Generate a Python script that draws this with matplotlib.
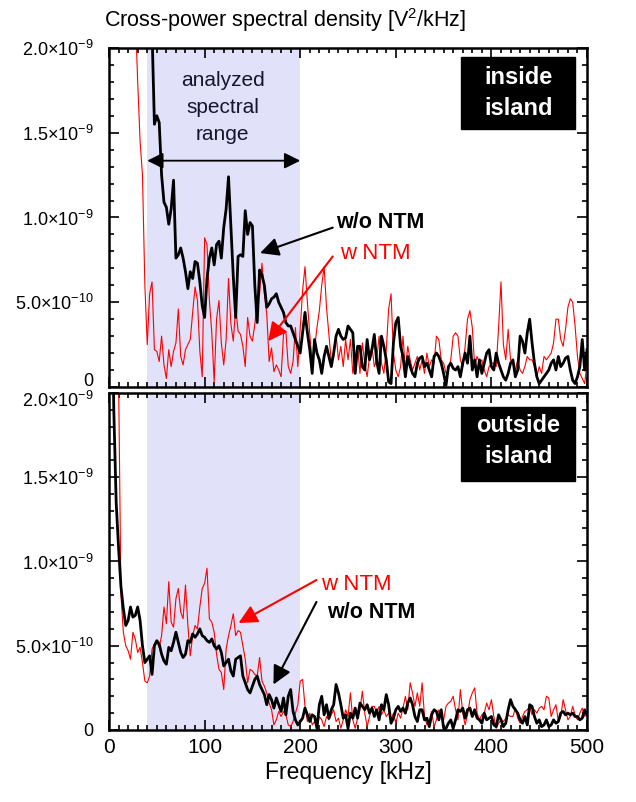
import numpy as np
import matplotlib
matplotlib.use('Agg')
import matplotlib.pyplot as plt
import matplotlib.transforms as mtransforms
from matplotlib.ticker import MultipleLocator, FixedLocator
from matplotlib.patches import Rectangle

plt.rcParams['font.family'] = ['Liberation Sans', 'DejaVu Sans']
plt.rcParams['mathtext.fontset'] = 'custom'
plt.rcParams['mathtext.rm'] = 'Liberation Sans'
plt.rcParams['mathtext.it'] = 'Liberation Sans:italic'
plt.rcParams['mathtext.bf'] = 'Liberation Sans:bold'

# frequency grid of the spectra [kHz], 2.5 kHz bins
freq = np.linspace(0, 500, 201)
scale = 1e-10   # spectra below are in units of 1e-10 V^2/kHz

# inside island, w/o NTM (black)
inside_wo = [80, 70, 60, 50, 45, 40, 38, 35, 32, 30,
             28, 26, 25, 24, 23, 22.5, 22, 21.5, 21, 15.5,
             16.0, 15.6, 12.5, 10.9, 10.6, 9.6, 10.5, 12.2, 7.6, 7.8,
             8.2, 7.6, 6.8, 5.8, 6.8, 6.4, 7.4, 7.3, 6.2, 4.8,
             4.1, 6.4, 7.6, 8.2, 7.2, 8.4, 8.6, 7.6, 9.4, 10.5,
             12.4, 9.5, 6.5, 4.1, 7.7, 7.8, 7.7, 10.4, 9.0, 9.7,
             9.5, 6.0, 3.8, 6.9, 6.6, 6.0, 4.7, 4.9, 5.2, 5.3,
             5.5, 5.0, 4.7, 4.4, 3.8, 3.6, 3.6, 3.2, 2.8, 2.4,
             2.0, 3.2, 4.4, 3.2, 2.2, 0.8, 2.8, 2.0, 1.6, 0.8,
             1.8, 2.4, 1.8, 1.2, 2.0, 3.0, 3.4, 3.0, 2.8, 2.9,
             3.6, 3.4, 3.2, 0.8, 2.4, 2.4, 1.2, 1.0, 2.8, 1.6,
             2.2, 3.1, 1.5, 0.8, 3.0, 2.4, 1.6, 0.3, 0.2, 2.6,
             3.8, 4.1, 2.4, 1.8, 0.6, 1.8, 1.2, 0.8, 0.6, 1.4,
             1.7, 1.8, 1.2, 1.4, 1.0, 0.6, 1.8, 2.0, 1.8, 1.4,
             0.8, 0.1, 1.2, 1.4, 1.1, 1.0, 1.2, 0.6, 1.4, 2.0,
             1.4, 3.0, 1.0, 1.6, 0.6, 1.6, 0.8, 1.4, 2.0, 2.2,
             1.2, 1.0, 2.0, 1.4, 1.0, 0.6, 0.4, 0.8, 1.4, 1.6,
             0.6, 1.0, 3.0, 2.7, 2.0, 3.2, 4.0, 2.6, 1.4, 0.6,
             0.2, 0.4, 0.6, 0.8, 1.0, 1.4, 1.6, 1.0, 1.8, 1.2,
             1.4, 1.7, 1.8, 1.0, 0.4, 0.2, 0.6, 1.2, 2.8, 1.0,
             2.2]

# inside island, w NTM (red)
inside_w = [80, 70, 60, 55, 50, 45, 40, 36, 32, 28,
            25, 22, 18, 14.5, 12.5, 6.0, 2.5, 5.5, 6.2, 2.2,
            2.1, 1.5, 3.0, 1.3, 0.5, 2.2, 1.2, 2.1, 2.6, 4.6,
            1.8, 1.3, 2.2, 2.5, 2.8, 4.4, 5.9, 5.1, 2.1, 0.6,
            8.8, 8.4, 5.1, 3.2, 0.3, 4.0, 5.1, 2.6, 1.3, 2.8,
            6.4, 3.7, 2.7, 4.7, 3.3, 3.1, 2.4, 1.2, 4.1, 3.0,
            2.7, 3.7, 5.0, 5.5, 7.3, 5.5, 4.3, 1.5, 2.3, 0.9,
            1.3, 1.0, 0.6, 3.1, 3.3, 1.2, 0.8, 1.5, 3.5, 1.2,
            3.5, 5.7, 7.1, 5.0, 3.1, 1.5, 2.3, 3.5, 4.5, 6.0,
            7.1, 4.7, 3.1, 1.5, 1.8, 3.1, 1.6, 2.4, 1.2, 2.8,
            1.6, 2.8, 0.8, 1.6, 2.4, 0.8, 2.6, 1.4, 0.6, 1.8,
            2.4, 1.2, 1.6, 3.0, 1.4, 0.8, 2.2, 4.6, 5.5, 2.0,
            1.0, 0.6, 1.2, 3.0, 1.0, 2.4, 1.6, 1.0, 1.4, 1.8,
            1.0, 1.6, 0.8, 2.0, 1.2, 1.6, 1.4, 3.0, 2.8, 1.6,
            1.4, 0.8, 1.0, 1.6, 3.0, 3.2, 3.0, 1.6, 1.2, 2.4,
            4.0, 4.5, 3.5, 1.2, 1.8, 1.4, 1.6, 1.0, 0.6, 1.2,
            1.4, 1.4, 1.2, 3.5, 6.2, 2.5, 1.6, 3.4, 1.6, 1.4,
            1.0, 1.6, 1.0, 0.8, 1.2, 1.8, 1.6, 1.6, 1.2, 0.6,
            1.2, 0.8, 1.8, 1.6, 1.8, 2.0, 2.6, 4.0, 4.0, 2.8,
            2.4, 3.4, 4.7, 5.2, 5.0, 3.6, 1.8, 0.8, 0.5, 0.2,
            1.4]

# outside island, w/o NTM (black)
outside_wo = [40, 30, 19, 13.5, 10.8, 8.5, 7.2, 6.2, 6.5, 7.3,
              6.7, 6.8, 7.3, 6.5, 5.0, 4.0, 4.2, 4.4, 3.3, 5.0,
              5.3, 5.1, 4.5, 4.1, 3.9, 4.9, 4.7, 5.2, 5.8, 5.2,
              4.6, 4.3, 4.5, 5.3, 5.2, 5.7, 5.5, 5.7, 6.0, 5.6,
              5.5, 5.3, 5.2, 5.4, 5.0, 4.8, 5.0, 4.6, 3.8, 4.0,
              4.2, 3.5, 3.2, 4.2, 4.3, 4.4, 3.2, 2.8, 2.4, 2.2,
              2.6, 3.0, 3.2, 2.7, 2.4, 2.1, 1.5, 2.1, 1.8, 1.3,
              1.9, 1.5, 1.1, 1.9, 0.9, 2.0, 2.4, 1.1, 0.6, 0.3,
              0.5, 0.7, 1.3, 0.9, 0.5, 0.9, 0.8, 0.1, 1.5, 2.0,
              0.9, 1.5, 0.7, 1.2, 1.5, 2.7, 2.2, 1.5, 0.7, 0.9,
              0.1, 1.0, 0.7, 1.3, 0.7, 1.6, 1.4, 1.2, 1.5, 1.0,
              1.3, 0.8, 1.2, 0.6, 1.5, 1.2, 2.1, 1.5, 0.4, 0.7,
              1.2, 1.4, 1.1, 1.3, 1.0, 1.6, 1.9, 1.5, 0.8, 0.5,
              1.2, 1.2, 0.6, 0.7, 0.2, 0.9, 1.2, 1.1, 0.6, 1.2,
              0.1, 0.1, 0.4, 0.6, 0.1, 0.6, 1.2, 1.1, 1.3, 0.7,
              1.2, 1.3, 0.8, 1.2, 0.7, 0.6, 0.4, 1.0, 0.6, 0.7,
              0.8, 0.3, 0.2, 0.9, 0.6, 0.2, 0.4, 1.2, 1.8, 1.4,
              1.2, 1.0, 0.6, 0.4, 0.8, 0.3, 1.5, 1.4, 0.8, 0.4,
              0.6, 0.2, 0.3, 0.6, 0.2, 0.3, 0.6, 0.4, 0.5, 1.0,
              1.1, 0.9, 1.0, 0.9, 1.0, 0.8, 0.8, 0.6, 0.7, 1.2,
              0.9]

# outside island, w NTM (red)
outside_w = [50, 45, 35, 26, 21, 8.0, 5.8, 5.0, 4.7, 4.2,
             5.8, 5.4, 4.6, 4.9, 4.0, 2.9, 2.8, 3.2, 4.8, 5.1,
             5.2, 4.9, 5.6, 7.3, 6.3, 8.8, 6.4, 6.1, 7.8, 8.4,
             7.0, 6.6, 8.6, 6.2, 4.4, 5.6, 6.2, 6.0, 7.3, 8.4,
             8.7, 9.6, 6.6, 6.4, 5.8, 4.5, 3.6, 3.4, 2.4, 4.8,
             5.6, 6.2, 6.9, 5.6, 5.9, 5.8, 5.0, 4.2, 2.8, 3.6,
             3.5, 3.3, 3.2, 4.3, 2.9, 2.6, 2.2, 1.6, 1.2, 0.3,
             0.6, 1.1, 0.8, 1.1, 0.9, 0.3, 0.2, 0.5, 1.0, 1.5,
             2.9, 3.0, 1.4, 0.5, 1.0, 0.3, 0.5, 0.1, 0.8, 0.6,
             0.2, 0.8, 0.6, 0.9, 1.2, 0.5, 0.7, 0.1, 0.6, 1.2,
             0.8, 2.2, 0.6, 0.1, 0.7, 1.2, 2.3, 1.0, 0.2, 0.8,
             1.4, 1.4, 1.0, 1.4, 0.9, 1.2, 0.8, 1.0, 0.6, 1.0,
             0.4, 1.0, 0.7, 1.3, 2.0, 1.2, 2.8, 2.2, 1.4, 2.2,
             1.4, 2.8, 0.8, 0.3, 0.6, 1.1, 0.2, 0.6, 1.2, 0.8,
             0.6, 1.4, 1.6, 1.7, 2.0, 1.2, 0.6, 2.4, 1.0, 0.3,
             0.9, 1.8, 2.2, 2.5, 1.0, 0.6, 0.9, 1.0, 1.6, 1.2,
             1.8, 0.8, 0.1, 0.4, 0.6, 0.5, 0.7, 0.9, 0.8, 0.8,
             1.3, 0.7, 0.4, 0.8, 1.1, 1.2, 1.4, 0.9, 1.2, 1.0,
             1.3, 1.4, 1.2, 2.0, 1.9, 0.8, 1.2, 1.5, 0.5, 0.8,
             1.8, 1.2, 0.6, 0.8, 1.4, 0.9, 0.6, 1.0, 1.3, 0.8,
             1.1]

band = (40, 200)
xticks = [0, 100, 200, 300, 400, 500]
yticks = [0, 5e-10, 1e-9, 1.5e-9, 2e-9]
ylabels = ['0', r'5.0$\times$10$^{-10}$', r'1.0$\times$10$^{-9}$',
           r'1.5$\times$10$^{-9}$', r'2.0$\times$10$^{-9}$']


def setup_axes(ax, show_x):
    ax.axvspan(band[0], band[1], facecolor='#e1e1f9', lw=0, zorder=0)
    ax.set_xlim(0, 500)
    ax.set_ylim(0, 2e-9)
    ax.xaxis.set_major_locator(FixedLocator(xticks))
    ax.xaxis.set_minor_locator(MultipleLocator(10))
    ax.yaxis.set_major_locator(FixedLocator(yticks))
    ax.yaxis.set_minor_locator(MultipleLocator(1e-10))
    ax.set_yticklabels(ylabels, fontsize=13)
    if show_x:
        ax.set_xticklabels([str(x) for x in xticks], fontsize=15)
    else:
        ax.set_xticklabels([])
    ax.tick_params(which='both', direction='in', top=True, right=True, width=1.2)
    ax.tick_params(axis='y', pad=11)
    ax.tick_params(axis='x', pad=6)
    ax.tick_params(which='major', length=7)
    ax.tick_params(which='minor', length=3.5)
    for s in ax.spines.values():
        s.set_linewidth(1.8)


def nudge(label, dy_pts):
    label.set_transform(label.get_transform() +
                        mtransforms.ScaledTranslation(0, dy_pts / 72, fig.dpi_scale_trans))


def island_box(ax, label, y0, y1, yc):
    ax.add_patch(Rectangle((0.736, y0), 0.239, y1 - y0, transform=ax.transAxes,
                           facecolor='black', edgecolor='black', zorder=5))
    ax.text(0.856, yc, label, transform=ax.transAxes, ha='center', va='center',
            color='white', fontsize=17, fontweight='bold', linespacing=1.45, zorder=6)


def arrow(ax, tail, tip, color):
    ax.annotate('', xy=(tip[0], tip[1] * scale), xytext=(tail[0], tail[1] * scale),
                arrowprops=dict(arrowstyle='-|>', color=color, lw=1.5,
                                mutation_scale=28, shrinkA=0, shrinkB=0), zorder=7)


fig = plt.figure(figsize=(6.36, 8.02), dpi=100)
ax1 = fig.add_axes([0.1714, 0.5175, 0.7516, 0.4227])
ax2 = fig.add_axes([0.1714, 0.0898, 0.7516, 0.4202])

setup_axes(ax1, False)
setup_axes(ax2, True)

# keep the "0" of the top panel clear of the "2.0x10^-9" of the bottom panel
nudge(ax1.get_yticklabels()[0], 5.5)
nudge(ax2.get_yticklabels()[-1], -4)

ax1.plot(freq, np.array(inside_w) * scale, color='red', lw=0.8, zorder=2)
ax1.plot(freq, np.array(inside_wo) * scale, color='black', lw=2.0, zorder=3)
ax2.plot(freq, np.array(outside_w) * scale, color='red', lw=0.8, zorder=2)
ax2.plot(freq, np.array(outside_wo) * scale, color='black', lw=2.0, zorder=3)

# top panel annotations
ax1.text(119, 16.5 * scale, 'analyzed\nspectral\nrange', ha='center', va='center',
         fontsize=15, color='#151530', linespacing=1.55)
ax1.annotate('', xy=(band[0], 13.35 * scale), xytext=(band[1], 13.35 * scale),
             arrowprops=dict(arrowstyle='<|-|>', color='black', lw=1.3,
                             mutation_scale=24, shrinkA=0, shrinkB=0))
island_box(ax1, 'inside\nisland', 0.761, 0.973, 0.866)
ax1.text(238, 9.7 * scale, 'w/o NTM', ha='left', va='center', fontsize=15.5,
         fontweight='bold', color='black')
ax1.text(241.5, 7.9 * scale, 'w NTM', ha='left', va='center', fontsize=16, color='red')
arrow(ax1, (234, 9.4), (158, 7.9), 'black')
arrow(ax1, (234, 7.7), (166.5, 2.7), 'red')

# bottom panel annotations
island_box(ax2, 'outside\nisland', 0.739, 0.958, 0.858)
ax2.text(222, 8.65 * scale, 'w NTM', ha='left', va='center', fontsize=16, color='red')
ax2.text(228, 7.0 * scale, 'w/o NTM', ha='left', va='center', fontsize=15.5,
         fontweight='bold', color='black')
arrow(ax2, (217, 8.9), (135.5, 6.35), 'red')
arrow(ax2, (217, 7.6), (172, 2.7), 'black')

ax2.set_xlabel('Frequency [kHz]', fontsize=16.5, labelpad=3)
fig.text(0.448, 0.975, r'Cross-power spectral density [V$^2$/kHz]', ha='center',
         va='center', fontsize=15.5)

fig.savefig('out.png', dpi=100)
